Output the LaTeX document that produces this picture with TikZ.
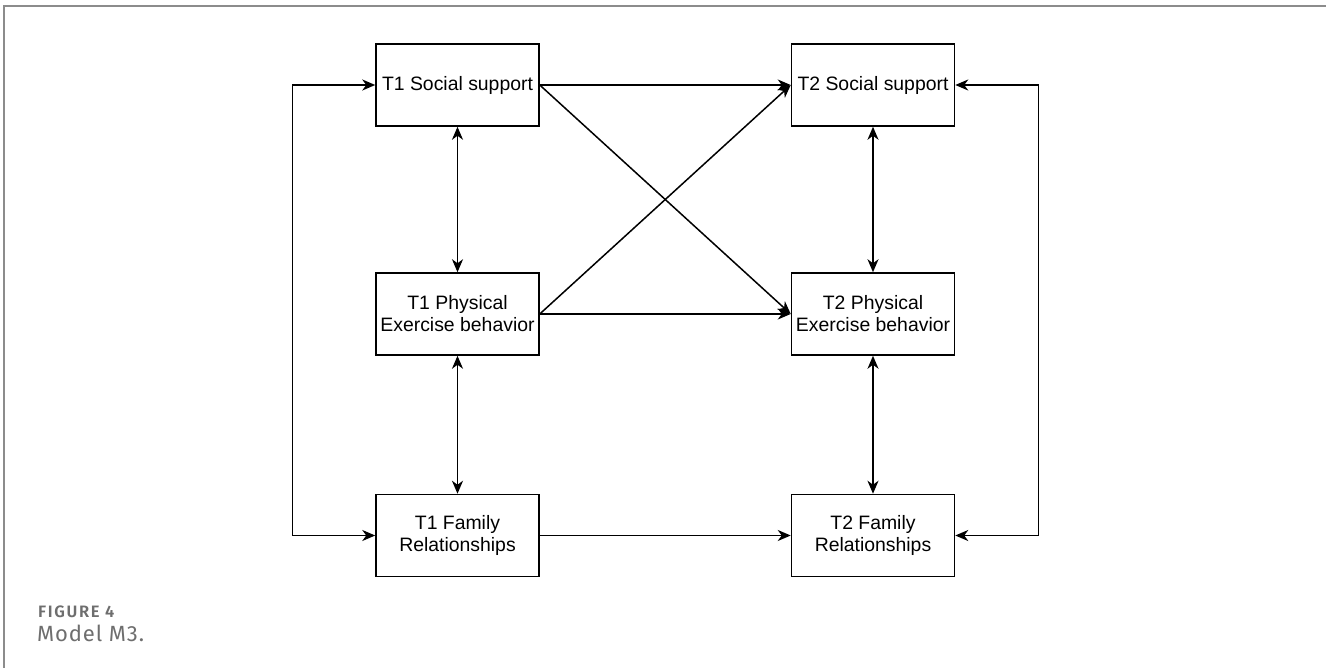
\documentclass[tikz,border=0pt]{standalone}
\usepackage{fontspec}
\setmainfont{Liberation Sans}
\newfontfamily\capfont[LetterSpace=4]{Fira Sans}
\newfontfamily\figfont[LetterSpace=10]{Fira Sans SemiBold}
\usetikzlibrary{arrows.meta}
\definecolor{framegray}{HTML}{8C8C8C}
\definecolor{capgray}{HTML}{6E6E6E}
\begin{document}
\begin{tikzpicture}[x=1pt,y=-1pt,
  varbox/.style={draw=black,line width=1.5pt,minimum width=163pt,minimum height=82pt,
    inner sep=0pt,align=center,font=\fontsize{19.4}{22}\selectfont},
  captext/.style={anchor=base west,inner sep=0pt,text=capgray},
  headtip/.tip={Stealth[length=13pt,width=11pt,inset=4pt]},
  conn/.style={line width=1.5pt,draw=black},
  arr/.style={conn,-headtip},
  dbl/.style={conn,headtip-headtip}]
\useasboundingbox (0,0) rectangle (1326,668);
\fill[white] (0,0) rectangle (1326,668);
% page frame
\draw[framegray,line width=2pt] (4,668) -- (4,6) -- (1326,6);

% variables at wave 1 and wave 2
\node[varbox] (t1s) at (457.5,85) {T1 Social support};
\node[varbox] (t1p) at (457.5,314) {T1 Physical\\Exercise behavior};
\node[varbox] (t1f) at (457.5,535.5) {T1 Family\\Relationships};
\node[varbox] (t2s) at (873,85) {T2 Social support};
\node[varbox] (t2p) at (873,314) {T2 Physical\\Exercise behavior};
\node[varbox] (t2f) at (873,535.5) {T2 Family\\Relationships};

% cross-lagged and autoregressive paths
\draw[arr] (t1s.east) -- (t2s.west);
\draw[arr] (t1s.east) -- (t2p.west);
\draw[arr] (t1p.east) -- (t2s.west);
\draw[arr] (t1p.east) -- (t2p.west);
\draw[arr] (t1f.east) -- (t2f.west);

% within-wave correlations
\draw[dbl] (t1s) -- (t1p);
\draw[dbl] (t1p) -- (t1f);
\draw[dbl] (t2s) -- (t2p);
\draw[dbl] (t2p) -- (t2f);
\draw[dbl] (t1s.west) -- ++(-83,0) |- (t1f.west);
\draw[dbl] (t2s.east) -- ++(83,0) |- (t2f.east);

% caption
\node[captext,font=\figfont\fontsize{16.5}{18}\selectfont] (fig) at (38,617) {FIGURE 4};
\node[captext,font=\capfont\fontsize{22}{24}\selectfont] (cap) at (37,641) {Model M3.};
\end{tikzpicture}
\end{document}
